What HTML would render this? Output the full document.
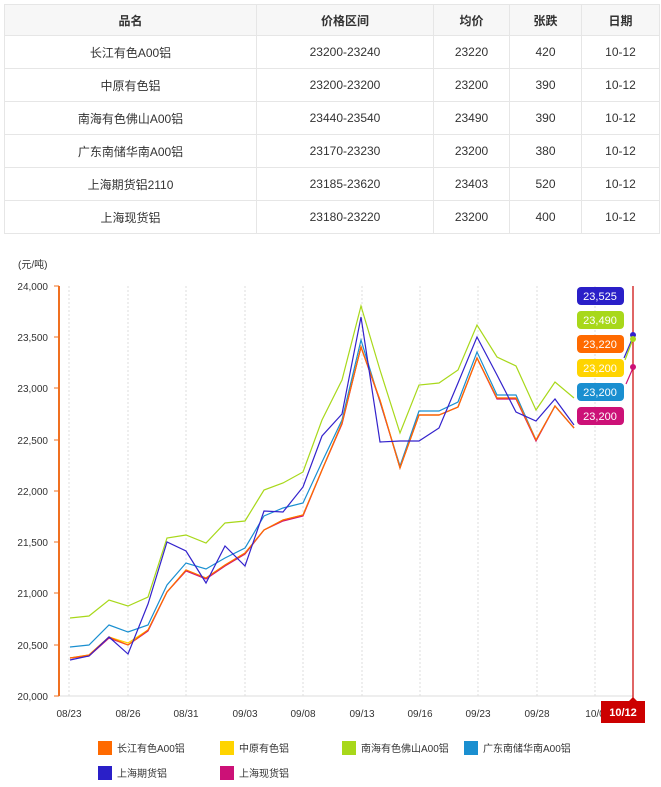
<!DOCTYPE html>
<html><head><meta charset="utf-8"><style>
body{margin:0;background:#fff;width:661px;height:787px;overflow:hidden;font-family:"Liberation Sans","Noto Sans CJK SC",sans-serif;}
table{position:absolute;left:4px;top:4px;width:656px;border-collapse:collapse;font-size:12px;color:#333;}
td,th{border:1px solid #e6e6e6;text-align:center;height:32px;padding:0;}
th{background:#f7f7f7;font-weight:bold;height:30px;}
</style></head><body>
<table>
<tr><th style="width:251px">品名</th><th style="width:176px">价格区间</th><th style="width:75px">均价</th><th style="width:71px">张跌</th><th>日期</th></tr>
<tr><td>长江有色A00铝</td><td>23200-23240</td><td>23220</td><td>420</td><td>10-12</td></tr>
<tr><td>中原有色铝</td><td>23200-23200</td><td>23200</td><td>390</td><td>10-12</td></tr>
<tr><td>南海有色佛山A00铝</td><td>23440-23540</td><td>23490</td><td>390</td><td>10-12</td></tr>
<tr><td>广东南储华南A00铝</td><td>23170-23230</td><td>23200</td><td>380</td><td>10-12</td></tr>
<tr><td>上海期货铝2110</td><td>23185-23620</td><td>23403</td><td>520</td><td>10-12</td></tr>
<tr><td>上海现货铝</td><td>23180-23220</td><td>23200</td><td>400</td><td>10-12</td></tr>
</table>
<svg width="661" height="787" style="position:absolute;left:0;top:0" font-family="Liberation Sans, Noto Sans CJK SC, sans-serif">
<text x="18" y="268" font-size="10" fill="#333">(元/吨)</text>
<g stroke="#ddd" stroke-dasharray="2,2">
<line x1="69" y1="286" x2="69" y2="696"/><line x1="128" y1="286" x2="128" y2="696"/><line x1="186" y1="286" x2="186" y2="696"/><line x1="245" y1="286" x2="245" y2="696"/><line x1="303" y1="286" x2="303" y2="696"/><line x1="362" y1="286" x2="362" y2="696"/><line x1="420" y1="286" x2="420" y2="696"/><line x1="478" y1="286" x2="478" y2="696"/><line x1="537" y1="286" x2="537" y2="696"/><line x1="595" y1="286" x2="595" y2="696"/>
</g>
<line x1="59" y1="696" x2="633" y2="696" stroke="#ddd"/>
<line x1="59" y1="286" x2="59" y2="696" stroke="#f07020" stroke-width="2"/>
<g font-size="10" fill="#333" text-anchor="end">
<text x="48" y="290">24,000</text><text x="48" y="341">23,500</text><text x="48" y="392">23,000</text><text x="48" y="444">22,500</text><text x="48" y="495">22,000</text><text x="48" y="546">21,500</text><text x="48" y="597">21,000</text><text x="48" y="649">20,500</text><text x="48" y="700">20,000</text>
</g>
<g stroke="#f07020"><line x1="54" y1="286" x2="59" y2="286"/><line x1="54" y1="337" x2="59" y2="337"/><line x1="54" y1="388" x2="59" y2="388"/><line x1="54" y1="440" x2="59" y2="440"/><line x1="54" y1="491" x2="59" y2="491"/><line x1="54" y1="542" x2="59" y2="542"/><line x1="54" y1="593" x2="59" y2="593"/><line x1="54" y1="645" x2="59" y2="645"/><line x1="54" y1="696" x2="59" y2="696"/></g>
<g font-size="10" fill="#333" text-anchor="middle">
<text x="69" y="717">08/23</text><text x="128" y="717">08/26</text><text x="186" y="717">08/31</text><text x="245" y="717">09/03</text><text x="303" y="717">09/08</text><text x="362" y="717">09/13</text><text x="420" y="717">09/16</text><text x="478" y="717">09/23</text><text x="537" y="717">09/28</text><text x="595" y="717">10/0</text>
</g>
<g fill="none" stroke-width="1.2">
<polyline stroke="#a8d81a" points="70,618 89,616 109,600 128,606 148,597 167,538 186,535 206,543 225,523 245,521 264,490 283,483 303,472 322,420 342,380 361,306 380,370 400,433 419,385 439,383 458,370 477,325 497,357 516,366 536,410 555,382 574,398"/>
<polyline stroke="#1a8fd0" points="70,647 89,645 109,625 128,632 148,625 167,585 186,563 206,569 225,558 245,548 264,516 283,508 303,503 322,462 342,420 361,340 380,402 400,466 419,411 439,411 458,402 477,352 497,395 516,395 536,440 555,406 574,428"/>
<polyline stroke="#ffd400" points="70,658 89,655 109,637 128,643 148,630 167,592 186,570 206,578 225,565 245,553 264,530 283,520 303,515 322,470 342,423 361,347 380,400 400,468 419,415 439,415 458,407 477,358 497,398 516,398 536,440 555,406 574,428"/>
<polyline stroke="#cc1177" points="70,658 89,656 109,638 128,645 148,631 167,592 186,571 206,579 225,566 245,554 264,530 283,521 303,516 322,470 342,424 361,347 380,401 400,468 419,415 439,415 458,407 477,358 497,399 516,399 536,441 555,406 574,428"/>
<polyline stroke="#ff6a00" points="70,658 89,655 109,637 128,645 148,630 167,592 186,570 206,578 225,565 245,553 264,530 283,520 303,515 322,470 342,423 361,347 380,400 400,468 419,415 439,415 458,407 477,358 497,398 516,398 536,440 555,406 574,428"/>
<polyline stroke="#3322cc" points="70,660 89,656 109,637 128,654 148,604 167,542 186,551 206,583 225,546 245,566 264,511 283,512 303,487 322,436 342,414 361,317 380,442 400,441 419,441 439,428 458,383 477,337 497,375 516,412 536,421 555,399 574,425"/>
<line x1="624" y1="358" x2="633" y2="337" stroke="#3322cc"/><line x1="625" y1="360" x2="633" y2="339" stroke="#a8d81a"/>
<line x1="626" y1="384" x2="633" y2="368" stroke="#cc1177"/>
</g>
<line x1="633" y1="286" x2="633" y2="700" stroke="#cc0000" stroke-width="1.2"/>
<circle cx="633" cy="335" r="3" fill="#3322cc"/><circle cx="633" cy="339" r="3" fill="#a8d81a"/><circle cx="633" cy="367" r="3" fill="#cc1177"/>
<g font-size="11" fill="#fff" text-anchor="middle">
<rect x="577" y="287" width="47" height="18" rx="4" fill="#2a1fc8"/><text x="600" y="300">23,525</text>
<rect x="577" y="311" width="47" height="18" rx="4" fill="#a8d81a"/><text x="600" y="324">23,490</text>
<rect x="577" y="335" width="47" height="18" rx="4" fill="#ff6a00"/><text x="600" y="348">23,220</text>
<rect x="577" y="359" width="47" height="18" rx="4" fill="#ffd400"/><text x="600" y="372">23,200</text>
<rect x="577" y="383" width="47" height="18" rx="4" fill="#1a8fd0"/><text x="600" y="396">23,200</text>
<rect x="577" y="407" width="47" height="18" rx="4" fill="#cc1177"/><text x="600" y="420">23,200</text>
<rect x="601" y="701" width="44" height="22" fill="#cc0000"/><polygon points="629,701 633,697 637,701" fill="#cc0000"/><text x="623" y="716" font-weight="bold">10/12</text>
</g>
<g font-size="10" fill="#333">
<rect x="98" y="741" width="14" height="14" fill="#ff6a00"/><text x="117" y="752">长江有色A00铝</text>
<rect x="220" y="741" width="14" height="14" fill="#ffd400"/><text x="239" y="752">中原有色铝</text>
<rect x="342" y="741" width="14" height="14" fill="#a8d81a"/><text x="361" y="752">南海有色佛山A00铝</text>
<rect x="464" y="741" width="14" height="14" fill="#1a8fd0"/><text x="483" y="752">广东南储华南A00铝</text>
<rect x="98" y="766" width="14" height="14" fill="#2a1fc8"/><text x="117" y="777">上海期货铝</text>
<rect x="220" y="766" width="14" height="14" fill="#cc1177"/><text x="239" y="777">上海现货铝</text>
</g>
</svg>
</body></html>
